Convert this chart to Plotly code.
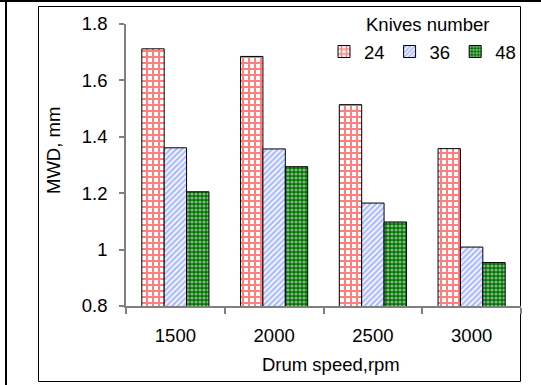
import plotly.graph_objects as go

categories = ["1500", "2000", "2500", "3000"]
series_names = ["24", "36", "48"]
vals_24 = [1.712, 1.685, 1.514, 1.358]
vals_36 = [1.361, 1.357, 1.165, 1.009]
vals_48 = [1.205, 1.294, 1.098, 0.954]

W, H = 541, 385
L, R, T, B = 126, 20, 24, 79
PW, PH = W - L - R, H - T - B

def px(x):
    return (x - L) / PW

def py(y):
    return (H - B - y) / PH

FONT = "Liberation Sans, Arial, sans-serif"
FS = 18.5

styles = [
    dict(shape="+", fg="#ff0000", bg="white", size=6, solidity=0.56),
    dict(shape="/", fg="#5577ff", bg="white", size=4, solidity=0.6),
    dict(shape=".", fg="white", bg="#007000", size=4, solidity=0.5),
]

fig = go.Figure()
for name, vals, st in zip(series_names, [vals_24, vals_36, vals_48], styles):
    fig.add_trace(go.Bar(
        x=categories, y=vals, name=name,
        marker=dict(
            color=st["bg"],
            line=dict(color="black", width=1),
            pattern=dict(shape=st["shape"], fgcolor=st["fg"], bgcolor=st["bg"],
                         size=st["size"], solidity=st["solidity"], fillmode="overlay"),
        ),
    ))

shapes = [
    dict(type="rect", xref="paper", yref="paper", x0=px(38.5), x1=px(520.5), y0=py(381.5), y1=py(6.5),
         line=dict(color="black", width=1), fillcolor="rgba(0,0,0,0)", layer="below"),
    dict(type="line", xref="paper", yref="paper", x0=px(0), x1=px(541), y0=py(1), y1=py(1),
         line=dict(color="black", width=2)),
    dict(type="line", xref="paper", yref="paper", x0=px(6), x1=px(6), y0=py(0), y1=py(385),
         line=dict(color="black", width=2)),
]

annotations = [
    dict(text="Knives number", xref="paper", yref="paper", x=px(427), y=py(25),
         xanchor="center", yanchor="middle", showarrow=False, font=dict(size=FS)),
    dict(text="MWD, mm", xref="paper", yref="paper", x=px(53), y=py(151),
         xanchor="center", yanchor="middle", showarrow=False, textangle=-90, font=dict(size=FS)),
    dict(text="Drum speed,rpm", xref="paper", yref="paper", x=px(331), y=py(364),
         xanchor="center", yanchor="middle", showarrow=False, font=dict(size=FS)),
]

fig.update_layout(
    width=W, height=H,
    margin=dict(l=L, r=R, t=T, b=B, pad=0),
    paper_bgcolor="white", plot_bgcolor="white",
    font=dict(family=FONT, size=FS, color="black"),
    barmode="group", bargap=0.32, bargroupgap=0,
    shapes=shapes, annotations=annotations,
    showlegend=True,
    legend=dict(
        orientation="h", x=px(324), xanchor="left", y=py(33), yanchor="top",
        font=dict(size=FS), bgcolor="rgba(0,0,0,0)",
        itemwidth=30, tracegroupgap=0,
    ),
    xaxis=dict(
        type="category", showline=True, linecolor="#808080", linewidth=1.5,
        ticks="outside", tickson="boundaries", ticklen=6, tickcolor="#808080", tickwidth=1.5,
        showgrid=False, ticklabelstandoff=12,
        tickfont=dict(size=FS),
    ),
    yaxis=dict(
        range=[0.8, 1.8], dtick=0.2, showline=True, linecolor="#808080", linewidth=1.5,
        ticks="outside", ticklen=5, tickcolor="#808080", tickwidth=1.5,
        showgrid=False, zeroline=False, ticklabelstandoff=8,
        tickfont=dict(size=FS),
    ),
)

fig.write_html("out.html")
